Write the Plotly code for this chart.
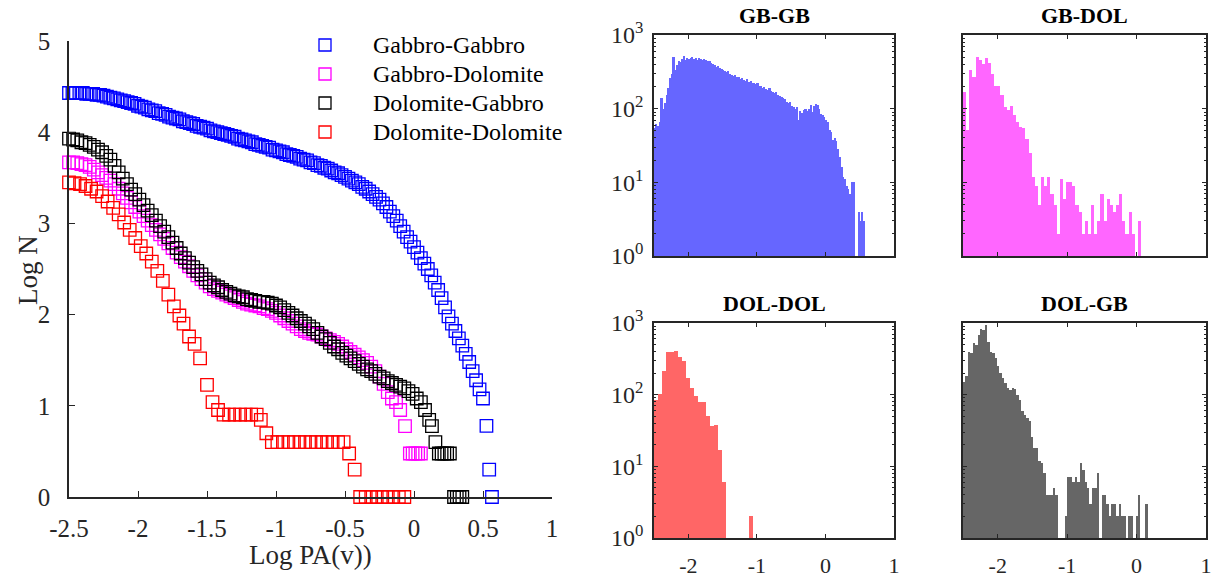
import plotly.graph_objects as go

FONT = "Liberation Serif"
AXIS_COLOR = "#262626"

# ---- cumulative curves: Log N against Log PA(v) ----
GB_GB_X = [
    -2.500, -2.475, -2.450, -2.425, -2.400, -2.375, -2.350, -2.325, -2.300, -2.275,
    -2.250, -2.225, -2.200, -2.175, -2.150, -2.125, -2.100, -2.075, -2.050, -2.025,
    -2.000, -1.975, -1.950, -1.925, -1.900, -1.875, -1.850, -1.825, -1.800, -1.775,
    -1.750, -1.725, -1.700, -1.675, -1.650, -1.625, -1.600, -1.575, -1.550, -1.525,
    -1.500, -1.475, -1.450, -1.425, -1.400, -1.375, -1.350, -1.325, -1.300, -1.275,
    -1.250, -1.225, -1.200, -1.175, -1.150, -1.125, -1.100, -1.075, -1.050, -1.025,
    -1.000, -0.975, -0.950, -0.925, -0.900, -0.875, -0.850, -0.825, -0.800, -0.775,
    -0.750, -0.725, -0.700, -0.675, -0.650, -0.625, -0.600, -0.575, -0.550, -0.525,
    -0.500, -0.475, -0.450, -0.425, -0.400, -0.375, -0.350, -0.325, -0.300, -0.275,
    -0.250, -0.225, -0.200, -0.175, -0.150, -0.125, -0.100, -0.075, -0.050, -0.025,
    0.000, 0.025, 0.050, 0.075, 0.100, 0.125, 0.150, 0.175, 0.200, 0.225,
    0.250, 0.275, 0.300, 0.325, 0.350, 0.375, 0.400, 0.425, 0.450, 0.475,
    0.500, 0.525, 0.545, 0.565,
]
GB_GB_Y = [
    4.43, 4.43, 4.43, 4.43, 4.43, 4.42, 4.42, 4.42, 4.41, 4.41,
    4.40, 4.39, 4.38, 4.37, 4.36, 4.35, 4.34, 4.33, 4.32, 4.31,
    4.29, 4.28, 4.27, 4.25, 4.24, 4.23, 4.21, 4.20, 4.19, 4.17,
    4.16, 4.15, 4.14, 4.12, 4.11, 4.10, 4.09, 4.07, 4.06, 4.05,
    4.04, 4.02, 4.01, 4.00, 3.99, 3.98, 3.97, 3.96, 3.95, 3.93,
    3.92, 3.91, 3.90, 3.89, 3.87, 3.86, 3.85, 3.84, 3.83, 3.81,
    3.80, 3.79, 3.78, 3.76, 3.75, 3.74, 3.73, 3.71, 3.70, 3.69,
    3.67, 3.66, 3.64, 3.63, 3.61, 3.60, 3.58, 3.56, 3.55, 3.53,
    3.51, 3.49, 3.47, 3.45, 3.43, 3.40, 3.38, 3.35, 3.32, 3.29,
    3.26, 3.22, 3.18, 3.13, 3.08, 3.03, 2.97, 2.91, 2.85, 2.80,
    2.74, 2.68, 2.62, 2.56, 2.50, 2.43, 2.35, 2.27, 2.18, 2.08,
    1.98, 1.90, 1.82, 1.74, 1.66, 1.57, 1.48, 1.38, 1.28, 1.18,
    1.08, 0.78, 0.30, 0.00,
]

GB_DOL_X = [
    -2.50, -2.47, -2.44, -2.41, -2.38, -2.35, -2.32, -2.29, -2.26, -2.23,
    -2.20, -2.17, -2.14, -2.11, -2.08, -2.05, -2.02, -1.99, -1.96, -1.93,
    -1.90, -1.87, -1.84, -1.81, -1.78, -1.75, -1.72, -1.69, -1.66, -1.63,
    -1.60, -1.57, -1.54, -1.51, -1.48, -1.45, -1.42, -1.39, -1.36, -1.33,
    -1.30, -1.27, -1.24, -1.21, -1.18, -1.15, -1.12, -1.09, -1.06, -1.03,
    -1.00, -0.97, -0.94, -0.91, -0.88, -0.85, -0.82, -0.79, -0.76, -0.73,
    -0.70, -0.67, -0.64, -0.61, -0.58, -0.55, -0.52, -0.49, -0.46, -0.43,
    -0.40, -0.37, -0.34, -0.31, -0.28, -0.25, -0.22, -0.19, -0.16, -0.13,
    -0.10, -0.065, -0.03, -0.01, 0.01, 0.03, 0.05,
]
GB_DOL_Y = [
    3.67, 3.67, 3.66, 3.65, 3.64, 3.62, 3.59, 3.56, 3.53, 3.50,
    3.47, 3.43, 3.38, 3.33, 3.28, 3.23, 3.18, 3.13, 3.08, 3.03,
    2.98, 2.93, 2.88, 2.83, 2.78, 2.73, 2.68, 2.63, 2.58, 2.53,
    2.48, 2.43, 2.39, 2.35, 2.31, 2.28, 2.26, 2.24, 2.22, 2.20,
    2.18, 2.16, 2.14, 2.12, 2.11, 2.10, 2.09, 2.07, 2.06, 2.04,
    2.02, 1.99, 1.96, 1.93, 1.90, 1.87, 1.84, 1.82, 1.80, 1.79,
    1.78, 1.76, 1.74, 1.72, 1.70, 1.68, 1.65, 1.62, 1.59, 1.56,
    1.53, 1.50, 1.47, 1.43, 1.38, 1.32, 1.24, 1.15, 1.08, 1.04,
    0.954, 0.778, 0.477, 0.477, 0.477, 0.477, 0.477,
]

DOL_GB_X = [
    -2.50, -2.47, -2.44, -2.41, -2.38, -2.35, -2.32, -2.29, -2.26, -2.23,
    -2.20, -2.17, -2.14, -2.11, -2.08, -2.05, -2.02, -1.99, -1.96, -1.93,
    -1.90, -1.87, -1.84, -1.81, -1.78, -1.75, -1.72, -1.69, -1.66, -1.63,
    -1.60, -1.57, -1.54, -1.51, -1.48, -1.45, -1.42, -1.39, -1.36, -1.33,
    -1.30, -1.27, -1.24, -1.21, -1.18, -1.15, -1.12, -1.09, -1.06, -1.03,
    -1.00, -0.97, -0.94, -0.91, -0.88, -0.85, -0.82, -0.79, -0.76, -0.73,
    -0.70, -0.67, -0.64, -0.61, -0.58, -0.55, -0.52, -0.49, -0.46, -0.43,
    -0.40, -0.37, -0.34, -0.31, -0.28, -0.25, -0.22, -0.19, -0.16, -0.13,
    -0.10, -0.07, -0.04, -0.01, 0.02, 0.05, 0.08, 0.11, 0.13, 0.155,
    0.18, 0.20, 0.22, 0.24, 0.26, 0.29, 0.31, 0.33, 0.35,
]
DOL_GB_Y = [
    3.93, 3.92, 3.91, 3.89, 3.88, 3.86, 3.84, 3.81, 3.78, 3.74,
    3.70, 3.63, 3.56, 3.49, 3.43, 3.37, 3.32, 3.26, 3.20, 3.14,
    3.09, 3.03, 2.97, 2.91, 2.85, 2.79, 2.73, 2.67, 2.62, 2.57,
    2.52, 2.48, 2.44, 2.39, 2.35, 2.32, 2.30, 2.27, 2.25, 2.23,
    2.21, 2.20, 2.19, 2.17, 2.16, 2.15, 2.14, 2.14, 2.13, 2.12,
    2.10, 2.08, 2.05, 2.02, 1.99, 1.96, 1.93, 1.90, 1.87, 1.84,
    1.80, 1.76, 1.73, 1.69, 1.65, 1.62, 1.58, 1.55, 1.52, 1.49,
    1.46, 1.43, 1.40, 1.38, 1.35, 1.32, 1.30, 1.27, 1.25, 1.23,
    1.21, 1.19, 1.16, 1.13, 1.08, 1.04, 0.954, 0.845, 0.778, 0.602,
    0.477, 0.477, 0.477, 0.477, 0.477, 0.0, 0.0, 0.0, 0.0,
]

DOL_DOL_X = [
    -2.50, -2.46, -2.42, -2.38, -2.34, -2.30, -2.26, -2.22, -2.18, -2.14,
    -2.10, -2.06, -2.02, -1.98, -1.94, -1.90, -1.86, -1.82, -1.78, -1.74,
    -1.70, -1.67, -1.63, -1.59, -1.55, -1.50, -1.46, -1.42, -1.38, -1.34,
    -1.30, -1.26, -1.22, -1.18, -1.14, -1.11, -1.07, -1.03, -0.99, -0.95,
    -0.91, -0.87, -0.83, -0.79, -0.75, -0.71, -0.67, -0.63, -0.59, -0.55,
    -0.51, -0.47, -0.43, -0.39, -0.35, -0.31, -0.27, -0.23, -0.19, -0.15,
    -0.11, -0.07,
]
DOL_DOL_Y = [
    3.45, 3.44, 3.43, 3.41, 3.38, 3.35, 3.30, 3.24, 3.17, 3.10,
    3.01, 2.93, 2.84, 2.75, 2.67, 2.58, 2.48, 2.37, 2.22, 2.09,
    1.99, 1.90, 1.76, 1.68, 1.52, 1.23, 1.04, 0.954, 0.903, 0.903,
    0.903, 0.903, 0.903, 0.903, 0.903, 0.845, 0.699, 0.602, 0.602, 0.602,
    0.602, 0.602, 0.602, 0.602, 0.602, 0.602, 0.602, 0.602, 0.602, 0.602,
    0.602, 0.477, 0.301, 0.0, 0.0, 0.0, 0.0, 0.0, 0.0, 0.0,
    0.0, 0.0,
]

SERIES_NAMES = ["Gabbro-Gabbro", "Gabbro-Dolomite", "Dolomite-Gabbro", "Dolomite-Dolomite"]
SERIES_COLORS = ["#0000FF", "#FF00FF", "#000000", "#FF0000"]

# ---- histograms of Log PA(v): first bin edge, bin width, counts ----
HIST_START = -2.5

GB_GB_WIDTH = 0.025
GB_GB_COUNTS = [
    55, 62, 58, 66, 140, 100, 120, 155, 190, 260,
    300, 500, 340, 390, 445, 430, 470, 520, 455, 490,
    470, 480, 505, 470, 490, 460, 480, 470, 455, 475,
    460, 450, 440, 420, 405, 390, 370, 380, 355, 345,
    335, 325, 317, 320, 300, 290, 280, 285, 270, 265,
    255, 260, 245, 240, 250, 230, 235, 225, 225, 215,
    220, 205, 200, 190, 195, 185, 180, 190, 175, 170,
    165, 170, 155, 150, 145, 140, 135, 125, 120, 125,
    110, 107, 100, 105, 70, 92, 88, 96, 100, 94,
    98, 112, 90, 110, 115, 112, 100, 85, 83, 78,
    70, 66, 51, 48, 38, 40, 36, 28, 22, 16,
    12, 11, 9, 8, 7, 10, 10, 0, 0, 4,
    3, 4, 3,
]

GB_DOL_WIDTH = 0.045
GB_DOL_COUNTS = [
    170, 51, 340, 270, 505, 455, 410, 480, 420, 300,
    205, 205, 153, 104, 95, 108, 81, 66, 57, 55,
    39, 25, 12, 9, 5, 12, 9, 12, 7, 5,
    2, 11, 6, 10, 10, 9, 5, 4, 2, 3,
    2, 5, 2, 3, 7, 3, 6, 5, 4, 5,
    7, 3, 2, 4, 2, 0, 3,
]

DOL_DOL_WIDTH = 0.058
DOL_DOL_COUNTS = [
    85, 103, 213, 390, 400, 410, 340, 295, 170, 124,
    97, 78, 78, 51, 37, 38, 17, 6, 0, 0,
    0, 0, 0, 0, 2,
]

DOL_GB_WIDTH = 0.035
DOL_GB_COUNTS = [
    150, 180, 400, 380, 525, 500, 690, 830, 810, 950,
    550, 400, 380, 325, 250, 200, 170, 145, 124, 118,
    124, 120, 100, 85, 60, 52, 48, 43, 26, 18,
    18, 12, 11, 8, 4, 4, 4, 5, 4, 0,
    0, 0, 2, 7, 7, 6, 7, 6, 11, 9,
    6, 5, 3, 5, 5, 8, 0, 4, 4, 3,
    2, 3, 3, 2, 3, 2, 2, 0, 2, 2,
    0, 2, 4, 0, 0, 3,
]

HIST_TITLES = ["GB-GB", "GB-DOL", "DOL-DOL", "DOL-GB"]
HIST_COLORS = ["#6666FF", "#FF66FF", "#FF6666", "#666666"]

W, H = 1214, 577


def px_x(p):
    return p / W


def px_y(p):
    return 1 - p / H


fig = go.Figure()

# ---- left panel: cumulative distributions ----
cum_data = [(GB_GB_X, GB_GB_Y), (GB_DOL_X, GB_DOL_Y), (DOL_GB_X, DOL_GB_Y), (DOL_DOL_X, DOL_DOL_Y)]
for name, color, (xs, ys) in zip(SERIES_NAMES, SERIES_COLORS, cum_data):
    fig.add_trace(go.Scatter(
        x=xs, y=ys, mode="markers", name=name, showlegend=False,
        marker=dict(symbol="square-open", size=12.5, color=color,
                    line=dict(width=1.3, color=color)),
        cliponaxis=False, xaxis="x", yaxis="y",
    ))

# ---- right panels: histograms ----
hist_sets = [
    (GB_GB_WIDTH, GB_GB_COUNTS),
    (GB_DOL_WIDTH, GB_DOL_COUNTS),
    (DOL_DOL_WIDTH, DOL_DOL_COUNTS),
    (DOL_GB_WIDTH, DOL_GB_COUNTS),
]
for k, ((width, counts), color) in enumerate(zip(hist_sets, HIST_COLORS)):
    centers = [HIST_START + width * (i + 0.5) for i in range(len(counts))]
    vals = [c if c > 0 else None for c in counts]
    fig.add_trace(go.Bar(
        x=centers, y=vals, width=width, showlegend=False,
        marker=dict(color=color, line=dict(width=0)),
        xaxis=f"x{k + 2}", yaxis=f"y{k + 2}",
    ))

common = dict(showgrid=False, zeroline=False, showline=True, linecolor=AXIS_COLOR,
              linewidth=1.5, ticks="inside", tickcolor=AXIS_COLOR, tickwidth=1.3,
              automargin=False)

layout = dict(
    width=W, height=H, margin=dict(l=0, r=0, t=0, b=0, pad=0, autoexpand=False),
    paper_bgcolor="white", plot_bgcolor="white",
    font=dict(family=FONT, color="#000000"),
    bargap=0,
    showlegend=False,
)

left_tick_font = dict(family=FONT, size=25, color=AXIS_COLOR)
layout["xaxis"] = dict(
    **common, domain=[px_x(69), px_x(552)], range=[-2.5, 1], anchor="y",
    tickvals=[-2.5, -2, -1.5, -1, -0.5, 0, 0.5, 1],
    ticktext=["-2.5", "-2", "-1.5", "-1", "-0.5", "0", "0.5", "1"],
    ticklen=6, tickfont=left_tick_font, ticklabelstandoff=8,
)
layout["yaxis"] = dict(
    **common, domain=[px_y(497), px_y(41)], range=[0, 5], anchor="x",
    tickvals=[0, 1, 2, 3, 4, 5], ticktext=["0", "1", "2", "3", "4", "5"],
    ticklen=6, tickfont=left_tick_font, ticklabelstandoff=12,
)

panel_px = [
    (654, 894, 35, 256),
    (963, 1206, 35, 256),
    (654, 894, 323, 538),
    (963, 1206, 323, 538),
]
minor_vals = [m * 10 ** e for e in range(3) for m in range(2, 10)]
for k, (x0, x1, y0, y1) in enumerate(panel_px):
    n = k + 2
    bottom = k >= 2
    left = k % 2 == 0
    layout[f"xaxis{n}"] = dict(
        **common, mirror="ticks", domain=[px_x(x0), px_x(x1)], range=[-2.5, 1],
        anchor=f"y{n}", tickvals=[-2, -1, 0, 1], ticktext=["-2", "-1", "0", "1"],
        showticklabels=bottom, ticklen=4,
        tickfont=dict(family=FONT, size=22, color=AXIS_COLOR), ticklabelstandoff=7,
    )
    layout[f"yaxis{n}"] = dict(
        **common, mirror="ticks", type="log", domain=[px_y(y1), px_y(y0)], range=[0, 3],
        anchor=f"x{n}", tickvals=[1, 10, 100, 1000],
        ticktext=["10<sup>0</sup>", "10<sup>1</sup>", "10<sup>2</sup>", "10<sup>3</sup>"],
        showticklabels=left, ticklen=4,
        tickfont=dict(family=FONT, size=24, color=AXIS_COLOR), ticklabelstandoff=4,
        minor=dict(tickmode="array", tickvals=minor_vals, ticks="inside", ticklen=2,
                   tickcolor=AXIS_COLOR, tickwidth=1, showgrid=False),
    )

annotations = [
    dict(text="Log PA(v))", x=px_x(310), y=px_y(555), xref="paper", yref="paper",
         showarrow=False, font=dict(family=FONT, size=27, color=AXIS_COLOR),
         xanchor="center", yanchor="middle"),
    dict(text="Log N", x=px_x(28), y=px_y(270), xref="paper", yref="paper",
         showarrow=False, textangle=-90, font=dict(family=FONT, size=27, color=AXIS_COLOR),
         xanchor="center", yanchor="middle"),
]
for title, (x0, x1, y0, y1) in zip(HIST_TITLES, panel_px):
    annotations.append(dict(
        text=f"<b>{title}</b>", x=px_x((x0 + x1) / 2), y=px_y(y0 - 20),
        xref="paper", yref="paper", showarrow=False,
        font=dict(family=FONT, size=22, color="#000000"),
        xanchor="center", yanchor="middle",
    ))

# legend: open-square keys with labels, top right of the left panel
shapes = []
legend_rows = [45, 74, 103, 132]
for name, color, row in zip(SERIES_NAMES, SERIES_COLORS, legend_rows):
    shapes.append(dict(
        type="rect", xref="paper", yref="paper",
        x0=px_x(319), x1=px_x(331), y0=px_y(row + 6), y1=px_y(row - 6),
        line=dict(color=color, width=1.3), fillcolor="rgba(0,0,0,0)",
    ))
    annotations.append(dict(
        text=name, x=px_x(371), y=px_y(row), xref="paper", yref="paper",
        showarrow=False, font=dict(family=FONT, size=24, color="#000000"),
        xanchor="left", yanchor="middle",
    ))

layout["annotations"] = annotations
layout["shapes"] = shapes

fig.update_layout(**layout)
fig.write_html("out.html")
